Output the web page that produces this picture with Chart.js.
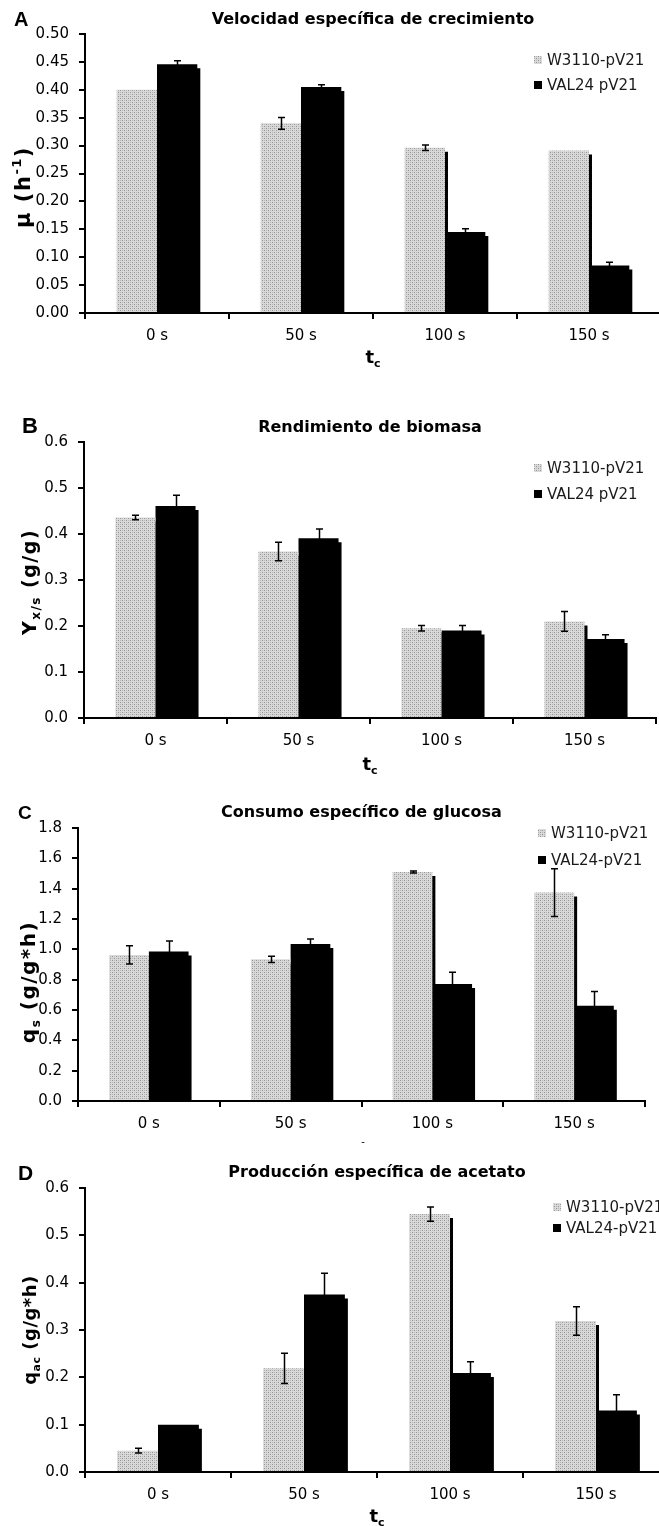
<!DOCTYPE html>
<html>
<head>
<meta charset="utf-8">
<script src="https://cdn.jsdelivr.net/npm/chart.js@4.4.1/dist/chart.umd.min.js"></script>
<style>
html, body { margin: 0; padding: 0; background: #fff; }
body { width: 659px; height: 1526px; overflow: hidden; position: relative; }
canvas { position: absolute; left: 0; }
</style>
</head>
<body>
<canvas id="cA"></canvas>
<canvas id="cB"></canvas>
<canvas id="cC"></canvas>
<canvas id="cD"></canvas>
<script>
var categories = ['0 s', '50 s', '100 s', '150 s'];

// A: velocidad especifica de crecimiento (h-1)
var muW3110 = [0.40, 0.34, 0.296, 0.291];
var muW3110Err = [0, 0.0105, 0.005, 0];
var muVAL24 = [0.446, 0.405, 0.145, 0.085];
var muVAL24Err = [0.006, 0.004, 0.006, 0.006];

// B: rendimiento de biomasa (g/g)
var yxsW3110 = [0.436, 0.362, 0.195, 0.21];
var yxsW3110Err = [0.005, 0.02, 0.006, 0.0215];
var yxsVAL24 = [0.461, 0.391, 0.19, 0.172];
var yxsVAL24Err = [0.023, 0.02, 0.011, 0.009];

// C: consumo especifico de glucosa (g/g*h)
var qsW3110 = [0.963, 0.934, 1.51, 1.374];
var qsW3110Err = [0.06, 0.02, 0.006, 0.158];
var qsVAL24 = [0.985, 1.035, 0.772, 0.628];
var qsVAL24Err = [0.07, 0.033, 0.077, 0.094];

// D: produccion especifica de acetato (g/g*h)
var qacW3110 = [0.045, 0.219, 0.545, 0.319];
var qacW3110Err = [0.005, 0.032, 0.015, 0.03];
var qacVAL24 = [0.10, 0.375, 0.209, 0.130];
var qacVAL24Err = [0, 0.045, 0.024, 0.033];

var FONT = 'DejaVu Sans';
var CW = 690, PADTOP = 40, XH = 60;

// stippled grey fill like the excel bars
function stipple() {
    var c = document.createElement('canvas');
    c.width = 4; c.height = 4;
    var g = c.getContext('2d');
    g.fillStyle = '#d9d9d9';
    g.fillRect(0, 0, 4, 4);
    g.fillStyle = '#969696';
    g.fillRect(0, 0, 1, 1);
    g.fillRect(2, 2, 1, 1);
    g.fillStyle = '#b8b8b8';
    g.fillRect(2, 0, 1, 1);
    g.fillRect(0, 2, 1, 1);
    return g.createPattern(c, 'repeat');
}
var grey = stipple();

// text with sub/superscripts, parts = [[text, 0|1(sub)|-1(sup)], ...]
function drawRich(ctx, parts, cx, cy, size, rot, spacing) {
    ctx.save();
    ctx.translate(cx, cy);
    ctx.rotate(rot);
    ctx.textBaseline = 'middle';
    ctx.textAlign = 'left';
    ctx.fillStyle = '#000';
    ctx.letterSpacing = (spacing || 0) + 'px';
    var total = 0;
    parts.forEach(function(p) {
        ctx.font = 'bold ' + (p[1] ? Math.round(size * 0.62) : size) + 'px "' + FONT + '"';
        total += ctx.measureText(p[0]).width;
    });
    var x = -total / 2;
    parts.forEach(function(p) {
        ctx.font = 'bold ' + (p[1] ? Math.round(size * 0.62) : size) + 'px "' + FONT + '"';
        var dy = p[1] == 1 ? size * 0.32 : (p[1] == -1 ? -size * 0.35 : 0);
        ctx.fillText(p[0], x, dy);
        x += ctx.measureText(p[0]).width;
    });
    ctx.restore();
}

var panels = [
    { id: 'cA', letter: 'A', letterSize: 20, letterX: 14, letterY: 26,
      title: 'Velocidad específica de crecimiento', titleY: 20,
      yTitle: [['μ (h', 0], ['-1', -1], [')', 0]], yTitleX: 25, yTitleY: 187, ySize: 21, ySpace: 1.5,
      xTitleY: 358, names: ['W3110-pV21', 'VAL24 pV21'], legX: 538, legY: [60, 85],
      a: muW3110, aErr: muW3110Err, b: muVAL24, bErr: muVAL24Err,
      max: 0.5, step: 0.05, dec: 2, left: 85, right: 661, top: 34, bottom: 313 },
    { id: 'cB', letter: 'B', letterSize: 22, letterX: 22, letterY: 433,
      title: 'Rendimiento de biomasa', titleY: 428,
      yTitle: [['Y', 0], ['x/s', 1], [' (g/g)', 0]], yTitleX: 31, yTitleY: 582, ySize: 19, ySpace: 1.5,
      xTitleY: 765, names: ['W3110-pV21', 'VAL24 pV21'], legX: 538, legY: [468, 494],
      a: yxsW3110, aErr: yxsW3110Err, b: yxsVAL24, bErr: yxsVAL24Err,
      max: 0.6, step: 0.1, dec: 1, left: 84, right: 656, top: 442, bottom: 718 },
    { id: 'cC', letter: 'C', letterSize: 19, letterX: 18, letterY: 819,
      title: 'Consumo específico de glucosa', titleY: 813,
      yTitle: [['q', 0], ['s', 1], [' (g/g*h)', 0]], yTitleX: 30, yTitleY: 982, ySize: 20, ySpace: 1.5,
      xTitleY: null, names: ['W3110-pV21', 'VAL24-pV21'], legX: 542, legY: [833, 860],
      a: qsW3110, aErr: qsW3110Err, b: qsVAL24, bErr: qsVAL24Err,
      max: 1.8, step: 0.2, dec: 1, left: 78, right: 645, top: 828, bottom: 1101 },
    { id: 'cD', letter: 'D', letterSize: 21, letterX: 18, letterY: 1180,
      title: 'Producción específica de acetato', titleY: 1173,
      yTitle: [['q', 0], ['ac', 1], [' (g/g*h)', 0]], yTitleX: 31, yTitleY: 1330, ySize: 18, ySpace: 0.5,
      xTitleY: 1517, names: ['W3110-pV21', 'VAL24-pV21'], legX: 557, legY: [1207, 1228],
      a: qacW3110, aErr: qacW3110Err, b: qacVAL24, bErr: qacVAL24Err,
      max: 0.6, step: 0.1, dec: 1, left: 85, right: 669, top: 1188, bottom: 1472 }
];

var shadowPlugin = {
    id: 'barShadow',
    beforeDatasetDraw: function(chart) {
        var ctx = chart.ctx;
        ctx.save();
        ctx.shadowColor = '#000';
        ctx.shadowOffsetX = 3;
        ctx.shadowOffsetY = 4;
        ctx.shadowBlur = 0;
    },
    afterDatasetDraw: function(chart) {
        chart.ctx.restore();
    }
};

var errorBarPlugin = {
    id: 'errorBars',
    afterDatasetsDraw: function(chart) {
        var ctx = chart.ctx, ys = chart.scales.y;
        ctx.save();
        ctx.strokeStyle = '#000';
        ctx.lineWidth = 1.5;
        chart.data.datasets.forEach(function(ds, i) {
            var meta = chart.getDatasetMeta(i);
            meta.data.forEach(function(bar, j) {
                var e = ds.errors[j];
                if (!e) return;
                var x = Math.round(bar.x) + 0.5;
                var y1 = ys.getPixelForValue(ds.data[j] + e);
                var y2 = ys.getPixelForValue(ds.data[j] - e);
                ctx.beginPath();
                ctx.moveTo(x, y1); ctx.lineTo(x, y2);
                ctx.moveTo(x - 3.5, y1); ctx.lineTo(x + 3.5, y1);
                ctx.moveTo(x - 3.5, y2); ctx.lineTo(x + 3.5, y2);
                ctx.stroke();
            });
        });
        ctx.restore();
    }
};

var textPlugin = {
    id: 'panelText',
    afterDraw: function(chart) {
        var p = chart.options.plugins.panelText, ctx = chart.ctx;
        var off = p.canvasTop;
        var ca = chart.chartArea;
        ctx.save();
        ctx.fillStyle = '#000';
        ctx.textBaseline = 'alphabetic';
        ctx.textAlign = 'left';
        ctx.font = 'bold ' + p.letterSize + 'px "Liberation Sans"';
        ctx.fillText(p.letter, p.letterX, p.letterY - off);

        ctx.textAlign = 'center';
        ctx.textBaseline = 'middle';
        ctx.font = 'bold 16px "' + FONT + '"';
        ctx.fillText(p.title, (ca.left + ca.right) / 2, p.titleY - off);

        drawRich(ctx, p.yTitle, p.yTitleX, p.yTitleY - off, p.ySize, -Math.PI / 2, p.ySpace);
        if (p.xTitleY) {
            drawRich(ctx, [['t', 0], ['c', 1]], (ca.left + ca.right) / 2, p.xTitleY - off, 18, 0, 0);
        } else {
            ctx.font = '10px "' + FONT + '"';
            ctx.fillText('-', 363, 1142 - off);
        }

        // legend
        ctx.textAlign = 'left';
        ctx.font = '15px "' + FONT + '"';
        for (var i = 0; i < 2; i++) {
            var ly = p.legY[i] - off;
            ctx.fillStyle = i == 0 ? grey : '#000';
            ctx.fillRect(p.legX - 4, ly - 4, 8, 8);
            ctx.fillStyle = '#1a1a1a';
            ctx.fillText(p.names[i], p.legX + 9, ly + 1);
        }
        ctx.restore();
    }
};

panels.forEach(function(p) {
    var canvas = document.getElementById(p.id);
    var h = (p.bottom - p.top) + PADTOP + XH;
    var canvasTop = p.top - PADTOP;
    canvas.width = CW;
    canvas.height = h;
    canvas.style.top = canvasTop + 'px';
    canvas.style.width = CW + 'px';
    canvas.style.height = h + 'px';

    new Chart(canvas, {
        type: 'bar',
        data: {
            labels: categories,
            datasets: [
                { label: p.names[0], data: p.a, errors: p.aErr, backgroundColor: grey,
                  borderWidth: 0, clip: 0 },
                { label: p.names[1], data: p.b, errors: p.bErr, backgroundColor: '#000',
                  borderWidth: 0, clip: 0 }
            ]
        },
        options: {
            responsive: false,
            animation: false,
            devicePixelRatio: 1,
            layout: { padding: { top: PADTOP, left: 0, right: CW - p.right, bottom: 0 } },
            datasets: { bar: { categoryPercentage: 0.56, barPercentage: 1 } },
            scales: {
                x: {
                    z: 1,
                    afterFit: function(s) { s.height = XH; },
                    grid: { offset: true, drawOnChartArea: false, drawTicks: true, tickLength: 6,
                            color: '#000', lineWidth: 2 },
                    border: { display: true, color: '#000', width: 2 },
                    ticks: { color: '#000', padding: 8, font: { family: FONT, size: 15 } }
                },
                y: {
                    z: 1,
                    min: 0, max: p.max,
                    afterFit: function(s) { s.width = p.left; },
                    grid: { drawOnChartArea: false, drawTicks: true, tickLength: 6,
                            color: '#000', lineWidth: 2 },
                    border: { display: true, color: '#000', width: 2 },
                    ticks: { stepSize: p.step, color: '#000', padding: 10,
                             font: { family: FONT, size: 15 },
                             callback: function(v) { return Number(v).toFixed(p.dec); } }
                }
            },
            plugins: {
                legend: { display: false },
                tooltip: { enabled: false },
                title: { display: false },
                panelText: {
                    canvasTop: canvasTop, letter: p.letter, letterSize: p.letterSize,
                    letterX: p.letterX, letterY: p.letterY, title: p.title, titleY: p.titleY,
                    yTitle: p.yTitle, yTitleX: p.yTitleX, yTitleY: p.yTitleY,
                    ySize: p.ySize, ySpace: p.ySpace,
                    xTitleY: p.xTitleY, names: p.names, legX: p.legX, legY: p.legY
                }
            }
        },
        plugins: [shadowPlugin, errorBarPlugin, textPlugin]
    });
});
</script>
</body>
</html>
